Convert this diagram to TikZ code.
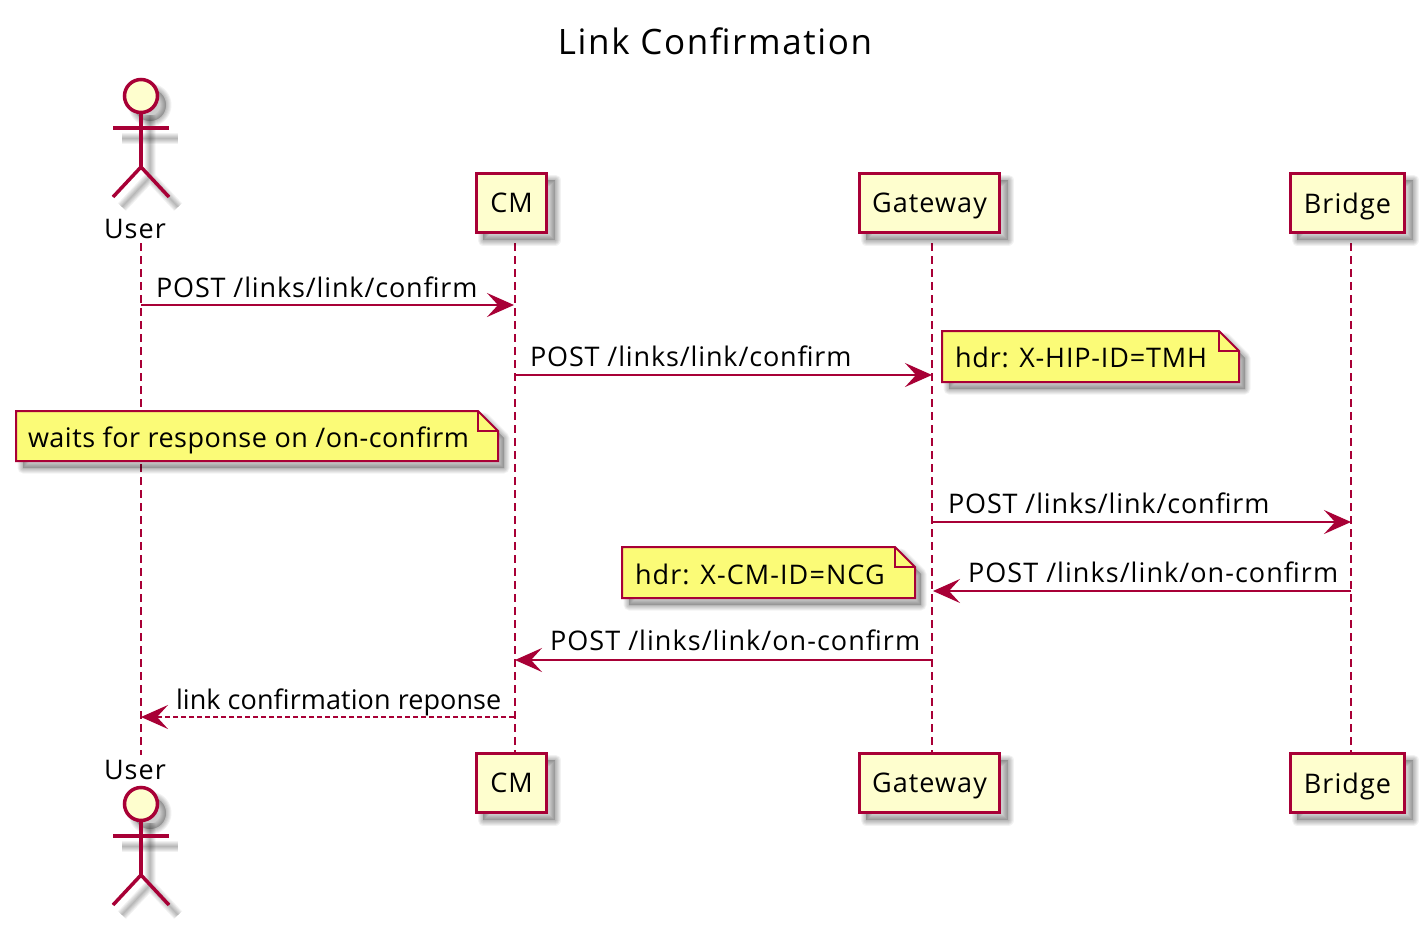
\documentclass[tikz,border=0pt]{standalone}
\usepackage{fontspec}
\setmainfont{Open Sans}[LetterSpace=4.0]
\usetikzlibrary{arrows.meta}
\definecolor{pline}{HTML}{A80036}
\definecolor{pfill}{HTML}{FEFECE}
\definecolor{nfill}{HTML}{FBFB77}
\newcommand{\softshadow}[1]{%
  \foreach \w in {1,3,5,7,9,11}{%
    \path[draw=black,draw opacity=.05,fill=none,line width=\w pt,line join=round] #1;}}
\newcommand{\softfill}[1]{%
  \path[fill=black,fill opacity=.2] #1;\softshadow{#1}}
\newcommand{\ls}[1]{\addfontfeatures{LetterSpace=#1}}
\tikzset{
  x=1pt,y=-1pt,
  txt/.style={font=\fontsize{27}{30}\selectfont,inner sep=0pt,outer sep=0pt,text=black},
  msglabel/.style={txt,anchor=base west},
  participant/.style={txt,draw=pline,fill=pfill,line width=3pt,anchor=center,text depth=0pt},
  notepath/.style={draw=pline,fill=nfill,line width=2pt,line join=miter},
  lifeline/.style={draw=pline,line width=2pt,dash pattern=on 8pt off 5pt},
  msg/.style={draw=pline,line width=2pt,-{Stealth[length=27pt,width=24pt,inset=11pt,fill=pline]}},
  reply/.style={msg,dash pattern=on 5pt off 3pt},
  actorline/.style={draw=pline,line width=3.5pt},
}
\newcommand{\actorfig}[2]{%
  \begin{scope}[yshift=-#2 pt]
    \softfill{(150,105) circle (16)}
    \softshadow{(122,138) -- (178,138)}
    \softshadow{(150,115) -- (150,177) (122,207) -- (150,177) -- (178,207)}
    \path[actorline,fill=pfill] (141,96) circle (16.5);
    \path[actorline] (141,113) -- (141,167) (113,128) -- (169,128);
    \path[actorline] (113,197) -- (141,167) -- (169,197);
    \coordinate (#1) at (141,96);
  \end{scope}}
\newcommand{\partbox}[4]{%
  \softfill{(#2+8,#3+8) rectangle (#2+#4+7,#3+68)}
  \node[participant,minimum width=#4 pt - 3pt,minimum height=59pt] (#1) at (#2+#4/2,#3+31) {\csname lbl#1\endcsname};}
\def\lblcmtop{CM}\def\lblcmbot{CM}
\def\lblgwtop{Gateway}\def\lblgwbot{Gateway}
\def\lblbrtop{Bridge}\def\lblbrbot{Bridge}
\begin{document}
\begin{tikzpicture}
\path[use as bounding box,fill=white] (0,0) rectangle (1425,926);

\node[txt,font=\fontsize{35}{38}\selectfont\ls{4.6},anchor=base] (title) at (715,54) {Link Confirmation};

\coordinate (u1) at (141,243); \coordinate (u2) at (141,755);
\coordinate (c1) at (515,243); \coordinate (c2) at (515,752);
\coordinate (g1) at (932,243); \coordinate (g2) at (932,752);
\coordinate (b1) at (1351,243); \coordinate (b2) at (1351,752);
\path[lifeline] (u1) -- (u2);
\path[lifeline] (c1) -- (c2);
\path[lifeline] (g1) -- (g2);
\path[lifeline] (b1) -- (b2);

\actorfig{actortop}{0}
\actorfig{actorbot}{708}
\node[txt,anchor=base] (usertop) at (135,238) {User};
\node[txt,anchor=base] (userbot) at (135,779) {User};

\partbox{cmtop}{475}{172}{73}
\partbox{gwtop}{858}{172}{143}
\partbox{brtop}{1289}{172}{117}
\partbox{cmbot}{475}{752}{73}
\partbox{gwbot}{858}{752}{143}
\partbox{brbot}{1289}{752}{117}

\coordinate (m1a) at (141,305); \coordinate (m1b) at (514,305);
\coordinate (m2a) at (515,375); \coordinate (m2b) at (932,375);
\coordinate (m3a) at (932,522); \coordinate (m3b) at (1351,522);
\coordinate (m4a) at (1351,591); \coordinate (m4b) at (933,591);
\coordinate (m5a) at (932,660); \coordinate (m5b) at (515,660);
\coordinate (m6a) at (514,717); \coordinate (m6b) at (141,717);
\path[msg] (m1a) -- (m1b);
\path[msg] (m2a) -- (m2b);
\path[msg] (m3a) -- (m3b);
\path[msg] (m4a) -- (m4b);
\path[msg] (m5a) -- (m5b);
\path[reply] (m6a) -- (m6b);

\node[msglabel] (l1) at (156,297) {\ls{3.2}POST /links/link/confirm};
\node[msglabel] (l2) at (530,366) {\ls{3.2}POST /links/link/confirm};
\node[msglabel] (l3) at (948,513) {\ls{3.2}POST /links/link/confirm};
\node[msglabel] (l4) at (968,582) {\ls{3.9}POST /links/link/on-confirm};
\node[msglabel] (l5) at (550,650) {\ls{3.9}POST /links/link/on-confirm};
\node[msglabel] (l6) at (176,709) {\ls{0.3}link confirmation reponse};

\newcommand{\notepoly}[4]{(#1,#2) -- (#3-20,#2) -- (#3,#2+20) -- (#3,#4) -- (#1,#4) -- cycle}
\newcommand{\notefold}[2]{(#2-20,#1) -- (#2-20,#1+20) -- (#2,#1+20)}

\softfill{\notepoly{949}{338}{1245}{389}}
\path[notepath] \notepoly{942}{331}{1239}{382};
\path[draw=pline,line width=2pt] \notefold{331}{1239};
\node[msglabel] (n1) at (955,367) {\ls{3.1}hdr: X-HIP-ID=TMH};

\softfill{\notepoly{23}{418}{504}{468}}
\path[notepath] \notepoly{16}{411}{498}{461};
\path[draw=pline,line width=2pt] \notefold{411}{498};
\node[msglabel] (n2) at (28,447) {\ls{1.8}waits for response on /on-confirm};

\softfill{\notepoly{629}{554}{921}{605}}
\path[notepath] \notepoly{622}{547}{915}{598};
\path[draw=pline,line width=2pt] \notefold{547}{915};
\node[msglabel] (n3) at (635,584) {hdr: X-CM-ID=NCG};
\end{tikzpicture}
\end{document}
